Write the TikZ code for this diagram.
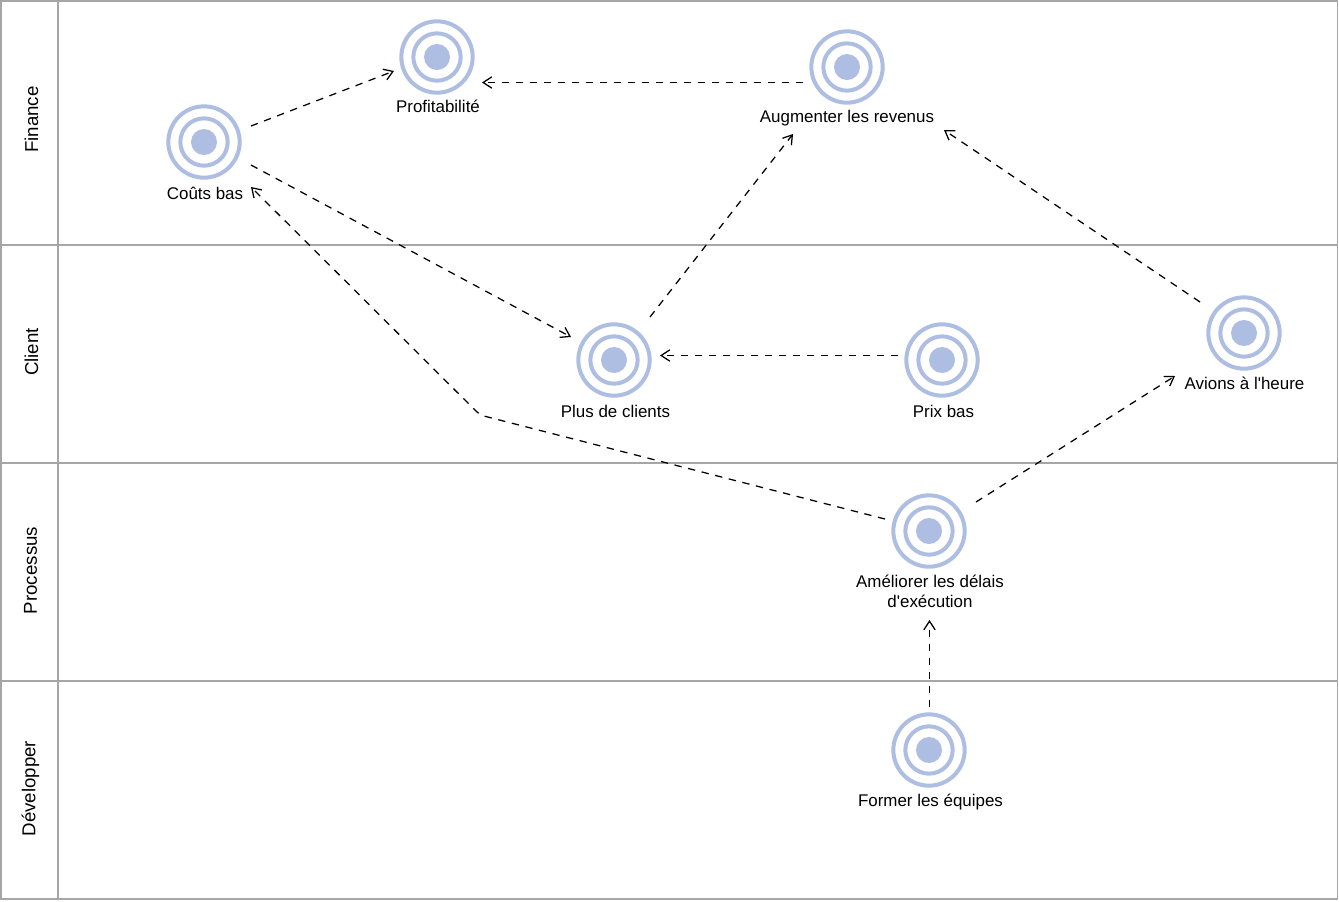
\documentclass[tikz,border=0pt]{standalone}
\usepackage{fontspec}
\setmainfont{Liberation Sans}[Ligatures=TeXOff]
\usetikzlibrary{arrows.meta}
\definecolor{ringblue}{HTML}{AEBDE2}
\definecolor{lanegray}{HTML}{A6A6A6}
\tikzset{
  x=0.75pt,y=-0.75pt,
  lanetext/.style={font=\fontsize{14pt}{16pt}\selectfont,rotate=90,text=black,inner sep=0pt},
  laneline/.style={draw=lanegray,line width=0.9pt},
  goalouter/.style={circle,draw=ringblue,line width=3pt,fill=white,minimum size=53.5pt,inner sep=0pt,outer sep=0pt},
  goalring/.style={circle,draw=ringblue,line width=3pt,fill=white,minimum size=35.5pt,inner sep=0pt,outer sep=0pt},
  goaldot/.style={circle,fill=ringblue,minimum size=19.5pt,inner sep=0pt,outer sep=0pt},
  goaltext/.style={font=\fontsize{12.7pt}{15pt}\selectfont,text=black,align=center,inner sep=0pt},
  dep/.style={draw=black,line width=0.95pt,dash pattern=on 5.5pt off 5pt,-{Straight Barb[length=6.5pt,width=8.5pt,line width=0.95pt]}},
}
\newcommand{\goalat}[3]{%
  \node[goalouter] (#1) at (#2,#3) {};
  \node[goalring] (#1-ring) at (#1) {};
  \node[goaldot] (#1-dot) at (#1) {};
}
\begin{document}
\begin{tikzpicture}
\useasboundingbox (0,0) rectangle (1339,901);
\fill[white] (0,0) rectangle (1339,901);
% lanes
\draw[laneline] (1,1) rectangle (1337.5,899);
\draw[laneline] (58,1) -- (58,899);
\draw[laneline] (1,245) -- (1337.5,245);
\draw[laneline] (1,463) -- (1337.5,463);
\draw[laneline] (1,681) -- (1337.5,681);
\node[lanetext] (lane-fin) at (31.5,119.5) {Finance};
\node[lanetext] (lane-cli) at (31.5,352) {Client};
\node[lanetext] (lane-pro) at (30.5,570.5) {Processus};
\node[lanetext] (lane-dev) at (30.5,788.5) {Développer};
% goals
\goalat{cb}{204}{142}
\goalat{pf}{437}{57}
\goalat{ar}{847}{67}
\goalat{pc}{614}{360}
\goalat{px}{942}{360}
\goalat{av}{1244}{333}
\goalat{am}{929}{531}
\goalat{fe}{929}{750}
\node[goaltext] (cb-t) at (205,193) {Coûts bas};
\node[goaltext] (pf-t) at (438,106) {Profitabilité};
\node[goaltext] (ar-t) at (847,118) {Augmenter les revenus};
\node[goaltext] (pc-t) at (615.5,411) {Plus de clients};
\node[goaltext] (px-t) at (943.5,411) {Prix bas};
\node[goaltext] (av-t) at (1244.5,383) {Avions à l'heure};
\node[goaltext] (am-t) at (930,591) {Améliorer les délais\\d'exécution};
\node[goaltext] (fe-t) at (930.5,802) {Former les équipes};
% dependencies
\draw[dep] ([shift={(47,-16)}]cb.center) -- ([shift={(-43,14)}]pf.center);
\draw[dep] ([shift={(47,23)}]cb.center) -- ([shift={(-43,-23)}]pc.center);
\draw[dep] ([shift={(-44,15.5)}]ar.center) -- ([shift={(45,25.5)}]pf.center);
\draw[dep] ([shift={(36,-43)}]pc.center) -- ([shift={(-54,67)}]ar.center);
\draw[dep] ([shift={(-44,-4.5)}]px.center) -- ([shift={(46,-4.5)}]pc.center);
\draw[dep] ([shift={(-44,-31)}]av.center) -- ([shift={(97,63)}]ar.center);
\draw[dep] ([shift={(47,-29)}]am.center) -- ([shift={(-69,43)}]av.center);
\draw[dep,rounded corners=4pt] ([shift={(-44,-12)}]am.center) -- (480,415) -- ([shift={(47,45)}]cb.center);
\draw[dep] ([shift={(0.5,-43)}]fe.center) -- ([shift={(0.5,89)}]am.center);
\end{tikzpicture}
\end{document}
